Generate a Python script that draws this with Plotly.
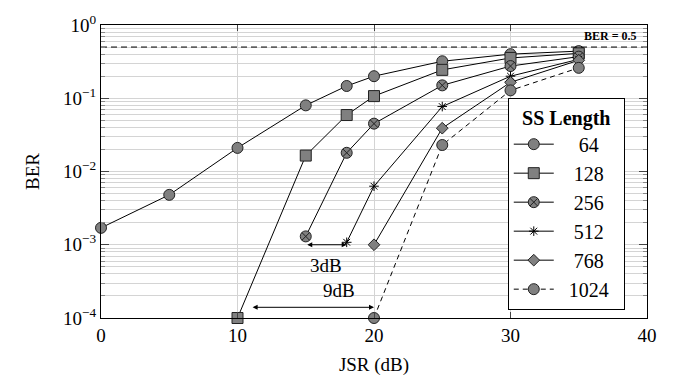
import plotly.graph_objects as go
import math

x64 = [0, 5, 10, 15, 18, 20, 25, 30, 35]
y64 = [1.7e-3, 4.8e-3, 0.021, 0.08, 0.147, 0.20, 0.32, 0.40, 0.44]
x128 = [10, 15, 18, 20, 25, 30, 35]
y128 = [1e-4, 0.0165, 0.059, 0.107, 0.244, 0.355, 0.41]
x256 = [15, 18, 20, 25, 30, 35]
y256 = [1.3e-3, 0.018, 0.045, 0.15, 0.275, 0.37]
x512 = [18, 20, 25, 30, 35]
y512 = [1.08e-3, 6.3e-3, 0.077, 0.20, 0.34]
x768 = [20, 25, 30, 35]
y768 = [1.0e-3, 0.039, 0.165, 0.33]
x1024 = [20, 25, 30, 35]
y1024 = [1e-4, 0.023, 0.128, 0.26]

ber_ref = 0.5
xticks = [0, 10, 20, 30, 40]
yticks = [1e-4, 1e-3, 1e-2, 1e-1, 1]
yticklabels = ["10<sup>−4</sup>", "10<sup>−3</sup>", "10<sup>−2</sup>", "10<sup>−1</sup>", "10<sup>0</sup>"]

FONT = "Liberation Serif"
GRAY = "#808080"
EDGE = "#222222"
NB = "&nbsp;"

fig = go.Figure()

def add(x, y, name, symbol, size, dash="solid"):
    fig.add_trace(go.Scatter(
        x=x, y=y, name=name, mode="lines+markers",
        line=dict(color="black", width=1, dash=dash),
        marker=dict(symbol=symbol, size=size, color=GRAY,
                    line=dict(color=EDGE, width=1)),
        cliponaxis=False,
    ))

add(x64, y64, NB * 4 + "64", "circle", 11)
add(x128, y128, NB * 3 + "128", "square", 11)
add(x256, y256, NB * 3 + "256", "circle-x", 11)
fig.add_trace(go.Scatter(
    x=x512, y=y512, name=NB * 3 + "512", mode="lines+markers",
    line=dict(color="black", width=1),
    marker=dict(symbol="asterisk-open", size=8, color="black",
                line=dict(color="black", width=1)),
    cliponaxis=False,
))
add(x768, y768, NB * 3 + "768", "diamond", 9)
add(x1024, y1024, NB * 2 + "1024" + NB * 2, "circle", 11, dash="5px,4px")

# BER = 0.5 reference line
fig.add_trace(go.Scatter(
    x=[0, 40], y=[ber_ref, ber_ref], mode="lines", showlegend=False,
    line=dict(color="black", width=1, dash="6px,4px"), hoverinfo="skip",
))

minor_y = []
for e in range(-4, 0):
    for d in range(2, 10):
        minor_y.append(d * 10 ** e)

fig.update_xaxes(
    range=[0, 40], tickvals=xticks, ticks="inside", ticklen=6,
    showline=True, linecolor="black", linewidth=1, mirror="allticks",
    showgrid=True, gridcolor="#d4d4d4", gridwidth=1, zeroline=False,
    tickfont=dict(family=FONT, size=19, color="black"),
    title=dict(text="JSR (dB)", font=dict(family=FONT, size=19, color="black"), standoff=12),
)
fig.update_yaxes(
    type="log", range=[-4, 0], tickvals=yticks, ticktext=yticklabels,
    ticks="inside", ticklen=8,
    showline=True, linecolor="black", linewidth=1, mirror="allticks",
    showgrid=True, gridcolor="#d4d4d4", gridwidth=1, zeroline=False,
    minor=dict(tickvals=minor_y, ticks="inside", ticklen=4, tickcolor="#888",
               showgrid=True, gridcolor="#d4d4d4", gridwidth=1),
    tickfont=dict(family=FONT, size=19, color="black"),
    title=dict(text="BER", font=dict(family=FONT, size=19, color="black"), standoff=18),
)

# annotations
fig.add_annotation(x=18, y=math.log10(1e-3), ax=15, ay=math.log10(1e-3),
                   xref="x", yref="y", axref="x", ayref="y", text="",
                   showarrow=True, arrowhead=2, arrowside="end+start",
                   arrowsize=1, arrowwidth=1, arrowcolor="black",
                   startarrowhead=2, startarrowsize=1)
fig.add_annotation(x=16.5, y=math.log10(1e-3), yshift=-21, xref="x", yref="y",
                   text="3dB", showarrow=False,
                   font=dict(family=FONT, size=19, color="black"))
fig.add_annotation(x=20, y=math.log10(1.4e-4), ax=11, ay=math.log10(1.4e-4),
                   xref="x", yref="y", axref="x", ayref="y", text="",
                   showarrow=True, arrowhead=2, arrowside="end+start",
                   arrowsize=1, arrowwidth=1, arrowcolor="black",
                   startarrowhead=2, startarrowsize=1)
fig.add_annotation(x=17.4, y=math.log10(1.4e-4), yshift=17, xref="x", yref="y",
                   text="9dB", showarrow=False,
                   font=dict(family=FONT, size=19, color="black"))
fig.add_annotation(x=1, y=math.log10(ber_ref), xref="paper", yref="y",
                   xanchor="right", yanchor="bottom", xshift=-8, yshift=2,
                   text="<b>BER = 0.5</b>", showarrow=False,
                   font=dict(family=FONT, size=12, color="black"))

fig.update_layout(
    width=676, height=386,
    margin=dict(l=101, r=29, t=16, b=68),
    paper_bgcolor="white", plot_bgcolor="white",
    showlegend=True,
    legend=dict(
        title=dict(text="<b>SS Length</b>", font=dict(family=FONT, size=20, color="black"),
                   side="top center"),
        font=dict(family=FONT, size=20, color="black"),
        x=0.745, y=0.752, xanchor="left", yanchor="top",
        bgcolor="white", bordercolor="black", borderwidth=1,
        itemwidth=40, tracegroupgap=0,
    ),
)

fig.write_html("out.html")
